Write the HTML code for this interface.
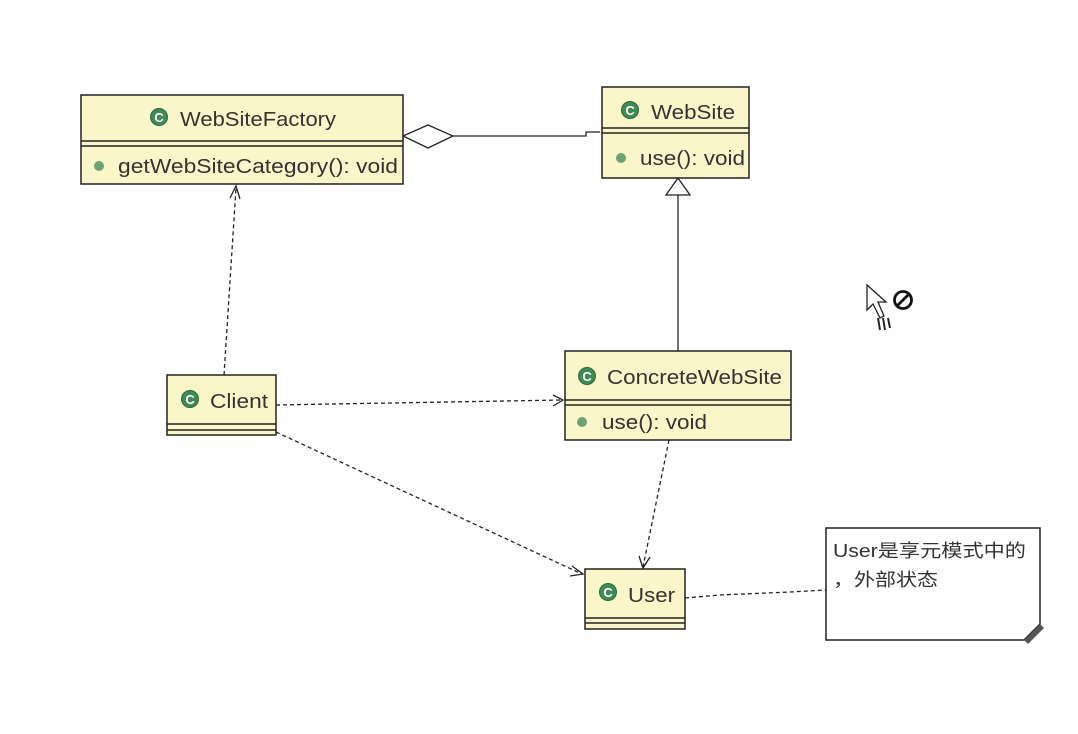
<!DOCTYPE html>
<html><head><meta charset="utf-8"><style>
html,body{margin:0;padding:0;background:#fff;}
svg{display:block;}
text{font-family:"Liberation Sans","Noto Sans CJK SC",sans-serif;fill:#333;}
</style></head><body>
<svg width="1078" height="734" viewBox="0 0 1078 734" xmlns="http://www.w3.org/2000/svg">
<defs>
<g id="ic"><circle r="8.5" fill="#3f8a55"/><circle r="8.5" fill="none" stroke="#2c6a3e" stroke-width="1"/><text x="0" y="5" text-anchor="middle" font-size="13" font-weight="bold" style="fill:#fff">C</text></g>
</defs>
<g stroke="#222" stroke-width="1.5" fill="#fbf6c9">
<rect x="81" y="95" width="322" height="89"/>
<line x1="81" y1="141" x2="403" y2="141"/><line x1="81" y1="146" x2="403" y2="146"/>
<rect x="602" y="87" width="147" height="91"/>
<line x1="602" y1="128" x2="749" y2="128"/><line x1="602" y1="133" x2="749" y2="133"/>
<rect x="565" y="351" width="226" height="89"/>
<line x1="565" y1="400" x2="791" y2="400"/><line x1="565" y1="405" x2="791" y2="405"/>
<rect x="167" y="375" width="109" height="60"/>
<line x1="167" y1="424" x2="276" y2="424"/><line x1="167" y1="430" x2="276" y2="430"/>
<rect x="585" y="569" width="100" height="60"/>
<line x1="585" y1="618" x2="685" y2="618"/><line x1="585" y1="623" x2="685" y2="623"/>
</g>
<path d="M826 528 H1040 V624 L1024 640 H826 Z" fill="#fff" stroke="#222" stroke-width="1.5"/>
<path d="M1024 640 L1040 624 L1044 628 L1028 644 Z" fill="#555"/>
<text x="833" y="557" font-size="18" textLength="193" lengthAdjust="spacingAndGlyphs">User是享元模式中的</text>
<text x="833" y="586" font-size="18" textLength="105" lengthAdjust="spacingAndGlyphs">，外部状态</text>
<g font-size="20">
<use href="#ic" x="159" y="117"/><text x="180" y="126" textLength="156" lengthAdjust="spacingAndGlyphs">WebSiteFactory</text>
<circle cx="99" cy="166" r="5" fill="#6da373"/><text x="118" y="173" textLength="280" lengthAdjust="spacingAndGlyphs">getWebSiteCategory(): void</text>
<use href="#ic" x="630" y="110"/><text x="651" y="119" textLength="84" lengthAdjust="spacingAndGlyphs">WebSite</text>
<circle cx="621" cy="158" r="5" fill="#6da373"/><text x="640" y="165" textLength="105" lengthAdjust="spacingAndGlyphs">use(): void</text>
<use href="#ic" x="587" y="376"/><text x="607" y="384" textLength="175" lengthAdjust="spacingAndGlyphs">ConcreteWebSite</text>
<circle cx="582" cy="422" r="5" fill="#6da373"/><text x="602" y="429" textLength="105" lengthAdjust="spacingAndGlyphs">use(): void</text>
<use href="#ic" x="190" y="399"/><text x="210" y="408" textLength="58" lengthAdjust="spacingAndGlyphs">Client</text>
<use href="#ic" x="608" y="592"/><text x="628" y="602" textLength="47" lengthAdjust="spacingAndGlyphs">User</text>
</g>
<g stroke="#222" stroke-width="1.3" fill="none">
<path d="M403 136 L428 125 L453 136 L428 148 Z" fill="#fff"/>
<path d="M453 136 L586 136 L586 132 L600 132"/>
<path d="M666 195 L678 178 L690 195 Z" fill="#fff"/>
<line x1="678" y1="195" x2="678" y2="351"/>
<g stroke-dasharray="4,3">
<line x1="224" y1="375" x2="236" y2="188"/>
<line x1="276" y1="405" x2="562" y2="400"/>
<line x1="276" y1="432" x2="582" y2="574"/>
<line x1="669" y1="440" x2="643" y2="567"/>
<path d="M685 598 L720 595 L790 592 L826 590"/>
</g>
<path d="M230 198 L236 186 L240 199"/>
<path d="M553 395 L563 400 L553 406"/>
<path d="M572 566 L583 574 L570 576"/>
<path d="M639 556 L643 568 L650 557"/>
</g>
<path d="M867 285 L867 310 L873 304 L880 318 L884 316 L878 302 L886 302 Z" fill="#fff" stroke="#222" stroke-width="1.3"/>
<path d="M878 318 l2 12 M883 318 l2 12 M888 318 l2 10" stroke="#222" stroke-width="2"/>
<circle cx="903" cy="300" r="8.5" fill="none" stroke="#111" stroke-width="2.8"/>
<line x1="897" y1="306" x2="909" y2="294" stroke="#111" stroke-width="2.8"/>
</svg>
</body></html>
